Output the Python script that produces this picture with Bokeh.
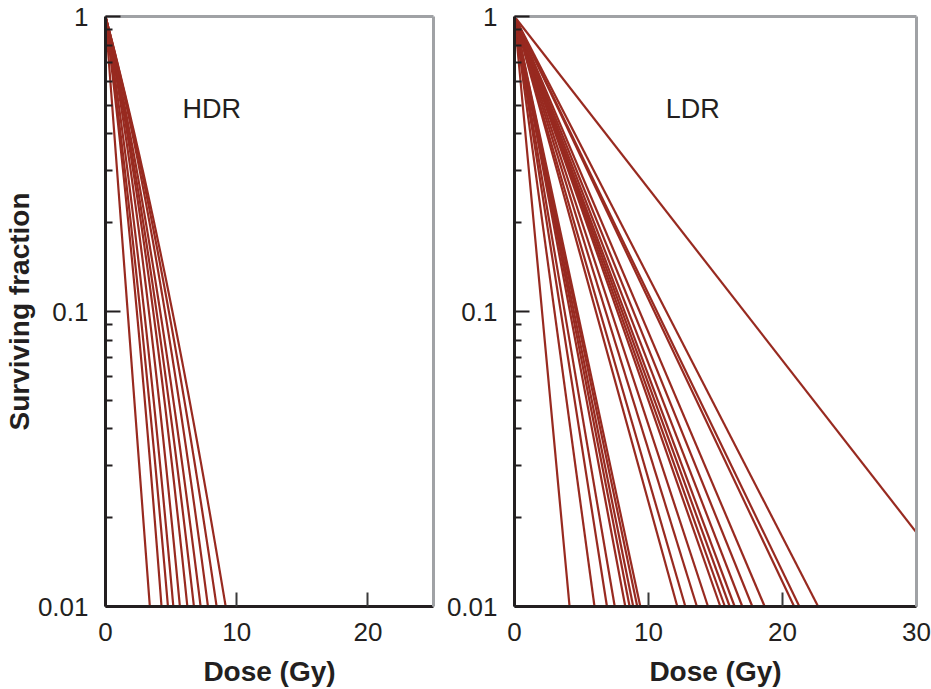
import numpy as np
from bokeh.plotting import figure
from bokeh.layouts import row
from bokeh.models import FixedTicker, CustomJSTickFormatter, LinearAxis, Range1d, Label
from bokeh.embed import file_html
from bokeh.resources import INLINE

# ---- data ----
# HDR: dose (Gy) giving 10% and 1% survival, one entry per cell line
hdr_d10 = [1.69, 2.39, 2.65, 2.95, 3.31, 3.64, 3.89, 4.17, 4.53, 4.83, 5.10]
hdr_d01 = [3.38, 4.27, 4.76, 5.17, 5.67, 6.24, 6.74, 7.25, 7.81, 8.47, 9.16]
# LDR: dose (Gy) giving 1% survival (straight lines on log scale)
ldr_d01 = [4.11, 5.97, 6.90, 7.48, 8.27, 8.59, 8.86, 9.16, 9.39,
           12.15, 12.75, 13.61, 14.44, 15.36, 15.70, 16.06, 16.43, 17.0,
           17.75, 18.67, 20.87, 21.26, 22.66, 34.3]

y_major = [0.01, 0.1, 1]
y_minor = [0.02, 0.03, 0.04, 0.05, 0.06, 0.07, 0.08, 0.09,
           0.2, 0.3, 0.4, 0.5, 0.6, 0.7, 0.8, 0.9]
hdr_xticks = [0, 10, 20]
ldr_xticks = [0, 10, 20, 30]

FONT = "Liberation Sans"
DARK = "#231f20"
GRAY = "#a0a2a5"
RED = "#982a20"


def make_fig(width, xmax, xticks, bl, br, ylabel):
    p = figure(width=width, height=689, x_range=Range1d(0, xmax),
               y_range=Range1d(0.01, 1), y_axis_type="log",
               output_backend="svg", toolbar_location=None,
               min_border_left=bl, min_border_right=br,
               min_border_top=16, min_border_bottom=83)
    p.grid.visible = False
    p.outline_line_color = None
    p.background_fill_color = "white"
    p.border_fill_color = "white"

    xa = p.below[0]
    xa.ticker = FixedTicker(ticks=xticks)
    xa.axis_line_color = DARK
    xa.axis_line_width = 3
    xa.major_tick_in = 14
    xa.major_tick_out = 0
    xa.major_tick_line_color = "#3a3a3a"
    xa.major_tick_line_width = 2
    xa.minor_tick_line_color = None
    xa.major_label_text_font = FONT
    xa.major_label_text_font_size = "26px"
    xa.major_label_text_color = DARK
    xa.major_label_standoff = 16
    xa.axis_label = "Dose (Gy)"
    xa.axis_label_text_font = FONT
    xa.axis_label_text_font_style = "bold"
    xa.axis_label_text_font_size = "28px"
    xa.axis_label_text_color = DARK
    xa.axis_label_standoff = 12

    ya = p.left[0]
    ya.ticker = FixedTicker(ticks=y_major, minor_ticks=y_minor)
    ya.formatter = CustomJSTickFormatter(code="return tick.toString();")
    ya.axis_line_color = DARK
    ya.axis_line_width = 3
    ya.major_tick_in = 15
    ya.major_tick_out = 0
    ya.minor_tick_in = 7
    ya.minor_tick_out = 0
    ya.major_tick_line_color = DARK
    ya.major_tick_line_width = 2
    ya.minor_tick_line_color = DARK
    ya.minor_tick_line_width = 2
    ya.major_label_text_font = FONT
    ya.major_label_text_font_size = "26px"
    ya.major_label_text_color = DARK
    ya.major_label_standoff = 17
    if ylabel:
        ya.axis_label = ylabel
        ya.axis_label_text_font = FONT
        ya.axis_label_text_font_style = "bold"
        ya.axis_label_text_font_size = "28px"
        ya.axis_label_text_color = DARK
        ya.axis_label_standoff = 0

    for loc in ("above", "right"):
        ax = LinearAxis(ticker=FixedTicker(ticks=[]), axis_line_color=GRAY,
                        axis_line_width=3, major_tick_line_color=None,
                        minor_tick_line_color=None, major_tick_in=0,
                        major_tick_out=0, minor_tick_in=0, minor_tick_out=0,
                        major_label_standoff=0,
                        major_label_text_font_size="0px")
        p.add_layout(ax, loc)
    return p


p1 = make_fig(443, 25, hdr_xticks, 105, 10, "Surviving fraction")
p2 = make_fig(488, 30, ldr_xticks, 70, 15, None)

L1, L2 = np.log(10.0), np.log(100.0)
xs, ys = [], []
for d1, d2 in zip(hdr_d10, hdr_d01):
    det = d1 * d2 * (d2 - d1)
    a = (L1 * d2 ** 2 - L2 * d1 ** 2) / det
    b = max((L2 * d1 - L1 * d2) / det, 0.0)
    d = np.linspace(0, d2, 100)
    xs.append(list(d))
    ys.append(list(np.exp(-a * d - b * d * d)))
p1.multi_line(xs, ys, line_color=RED, line_width=2.2)

p2.multi_line([[0, d] for d in ldr_d01], [[1, 0.01] for _ in ldr_d01],
              line_color=RED, line_width=2.2)

for p, x, txt in ((p1, 8.1, "HDR"), (p2, 13.3, "LDR")):
    p.add_layout(Label(x=x, y=0.484, text=txt, text_align="center",
                       text_baseline="middle", text_font=FONT,
                       text_font_size="27px", text_color=DARK))

layout = row(p1, p2)
open("out.html", "w").write(file_html(layout, INLINE))
